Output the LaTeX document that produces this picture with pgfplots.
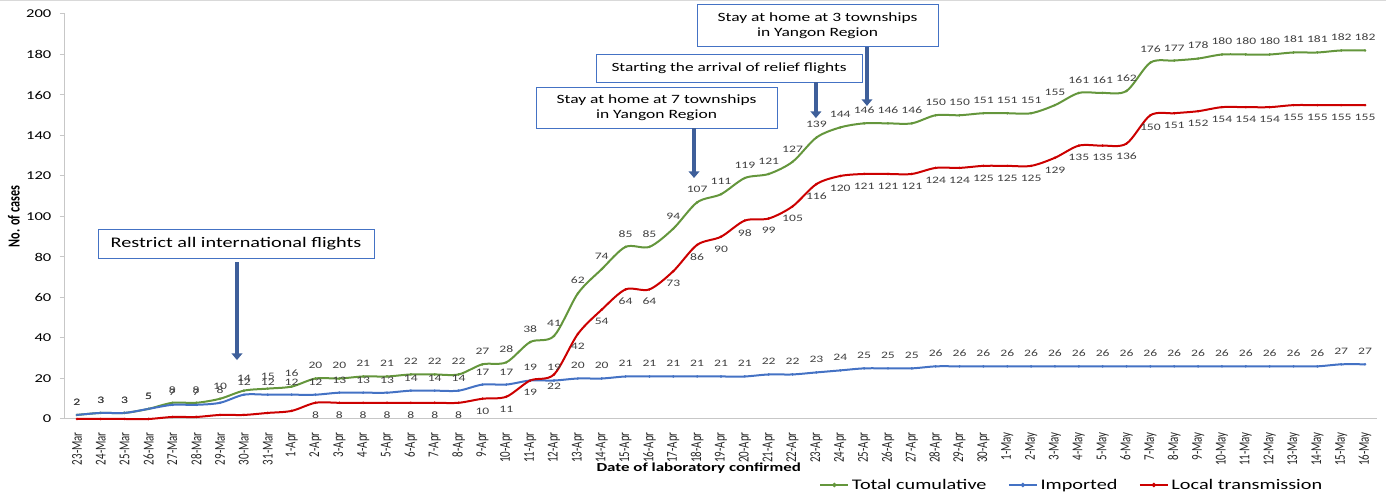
\documentclass[border=0pt]{standalone}
\usepackage{fontspec}
\setmainfont{Carlito}[FakeStretch=1.38]
\newfontfamily\vfont{Carlito}[FakeStretch=0.725]
\usepackage{pgfplots}
\usepackage{pgfplotstable}
\pgfplotsset{compat=1.18}
\usetikzlibrary{arrows.meta}
\definecolor{cgreen}{RGB}{100,150,60}
\definecolor{cblue}{RGB}{68,114,196}
\definecolor{cred}{RGB}{204,0,0}
\definecolor{carrow}{RGB}{62,95,154}
\definecolor{cbox}{RGB}{68,114,196}
\pgfplotstableread{
idx total imported local
0 2 2 0
1 3 3 0
2 3 3 0
3 5 5 0
4 8 7 1
5 8 7 1
6 10 8 2
7 14 12 2
8 15 12 3
9 16 12 4
10 20 12 8
11 20 13 8
12 21 13 8
13 21 13 8
14 22 14 8
15 22 14 8
16 22 14 8
17 27 17 10
18 28 17 11
19 38 19 19
20 41 19 22
21 62 20 42
22 74 20 54
23 85 21 64
24 85 21 64
25 94 21 73
26 107 21 86
27 111 21 90
28 119 21 98
29 121 22 99
30 127 22 105
31 139 23 116
32 144 24 120
33 146 25 121
34 146 25 121
35 146 25 121
36 150 26 124
37 150 26 124
38 151 26 125
39 151 26 125
40 151 26 125
41 155 26 129
42 161 26 135
43 161 26 135
44 162 26 136
45 176 26 150
46 177 26 151
47 178 26 152
48 180 26 154
49 180 26 154
50 180 26 154
51 181 26 155
52 181 26 155
53 182 27 155
54 182 27 155
}\datatable

\begin{document}
\begin{tikzpicture}
\begin{axis}[
  at={(0,0)}, anchor=south west, scale only axis,
  width=984pt, height=303.75pt,
  xmin=-0.5, xmax=54.5, ymin=0, ymax=200,
  ytick={0,20,...,200},
  xtick={0,...,54},
  xticklabels={23-Mar,24-Mar,25-Mar,26-Mar,27-Mar,28-Mar,29-Mar,30-Mar,31-Mar,
    1-Apr,2-Apr,3-Apr,4-Apr,5-Apr,6-Apr,7-Apr,8-Apr,9-Apr,10-Apr,11-Apr,12-Apr,13-Apr,14-Apr,15-Apr,
    16-Apr,17-Apr,18-Apr,19-Apr,20-Apr,21-Apr,22-Apr,23-Apr,24-Apr,25-Apr,26-Apr,27-Apr,28-Apr,29-Apr,30-Apr,
    1-May,2-May,3-May,4-May,5-May,6-May,7-May,8-May,9-May,10-May,11-May,12-May,13-May,14-May,15-May,16-May},
  axis x line*=bottom, axis y line*=left,
  axis line style={draw=black!22, line width=0.75pt},
  tick align=outside, major tick length=3.75pt,
  ytick style={draw=black!22, line width=0.75pt},
  xtick style={draw=none},
  /pgf/number format/assume math mode=true,
  yticklabel style={font=\fontsize{9}{10}\selectfont, text=black, xshift=-3pt},
  xticklabel style={font=\vfont\fontsize{11.3}{12}\selectfont, rotate=90, anchor=east, inner sep=0pt, text=black!85},
  xticklabel shift=6pt,
  xlabel={Date of laboratory confirmed},
  ylabel={No. of cases},
  every axis x label/.style={at={(axis description cs:0.483,-0.121)}, anchor=center, font=\bfseries\fontsize{9.2}{11}\selectfont},
  every axis y label/.style={at={(axis description cs:-0.0389,0.5)}, rotate=90, anchor=center, font=\vfont\bfseries\fontsize{12.6}{14}\selectfont},
  clip=false,
  legend columns=3,
  legend style={at={(axis description cs:0.5747,-0.163)}, anchor=west, draw=none, fill=none,
    font=\fontsize{11}{13}\selectfont, inner sep=0pt,
    /tikz/every even column/.append style={column sep=14pt}},
  legend image code/.code={\draw[#1, mark=none] (0pt,0pt) -- (21pt,0pt);
    \fill[#1] (10.5pt,0pt) circle (0.8pt);},
  every node near coord/.append style={font=\fontsize{7.4}{8}\selectfont, text=black!75, inner sep=1pt},
]
\addplot[cgreen, line width=1.5pt, smooth, tension=0.5, mark=*, mark size=0.8pt, mark options={line width=0.3pt},
  nodes near coords, every node near coord/.append style={anchor=south, yshift=6pt}]
  table[x=idx, y=total]{\datatable};
\addlegendentry{Total cumulative}
\addplot[cblue, line width=1.5pt, smooth, tension=0.5, mark=*, mark size=0.8pt, mark options={line width=0.3pt},
  nodes near coords, every node near coord/.append style={anchor=south, yshift=6pt}]
  table[x=idx, y=imported]{\datatable};
\addlegendentry{Imported}
\addplot[cred, line width=1.5pt, smooth, tension=0.5, mark=*, mark size=0.8pt, mark options={line width=0.3pt}]
  table[x=idx, y=local]{\datatable};
\addlegendentry{Local transmission}
\addplot[draw=none, mark=none, forget plot, skip coords between index={0}{10},
  nodes near coords, every node near coord/.append style={anchor=north, yshift=-5.5pt}]
  table[x=idx, y=local]{\datatable};

% annotations
\node[draw=cbox, line width=0.75pt, fill=white, minimum width=207pt, minimum height=21.75pt, inner sep=0pt,
  font=\fontsize{11}{13}\selectfont] at (axis cs:6.67,86.4) {Restrict all international flights};
\draw[carrow, line width=3.5pt, -{Triangle[length=5pt,width=8pt]}] (axis cs:6.71,77.5) -- (axis cs:6.71,29.1);

\node[draw=cbox, line width=0.75pt, fill=white, minimum width=180.75pt, minimum height=30.75pt, inner sep=0pt,
  align=center, font=\fontsize{9.5}{11.5}\selectfont] at (axis cs:24.3,153.8) {Stay at home at 7 townships\\in Yangon Region};
\draw[carrow, line width=3.5pt, -{Triangle[length=5pt,width=8pt]}] (axis cs:25.87,143.7) -- (axis cs:25.87,119);

\node[draw=cbox, line width=0.75pt, fill=white, minimum width=199.5pt, minimum height=21pt, inner sep=0pt,
  font=\fontsize{9.4}{11}\selectfont] at (axis cs:27.34,173.3) {Starting the arrival of relief flights};
\draw[carrow, line width=3.5pt, -{Triangle[length=5pt,width=8pt]}] (axis cs:30.98,166.4) -- (axis cs:30.98,148.6);

\node[draw=cbox, line width=0.75pt, fill=white, minimum width=180.75pt, minimum height=31.5pt, inner sep=0pt,
  align=center, font=\fontsize{9.5}{11.5}\selectfont] at (axis cs:31.05,194.1) {Stay at home at 3 townships\\in Yangon Region};
\draw[carrow, line width=3.5pt, -{Triangle[length=5pt,width=8pt]}] (axis cs:33.12,183.7) -- (axis cs:33.12,154.6);
\end{axis}
\draw[black!15, line width=0.75pt] (-48.75pt,313.9pt) -- (990.75pt,313.9pt);
\pgfresetboundingbox
\path[use as bounding box] (-48.75pt,-57pt) rectangle (990.75pt,314.25pt);
\end{tikzpicture}
\end{document}
